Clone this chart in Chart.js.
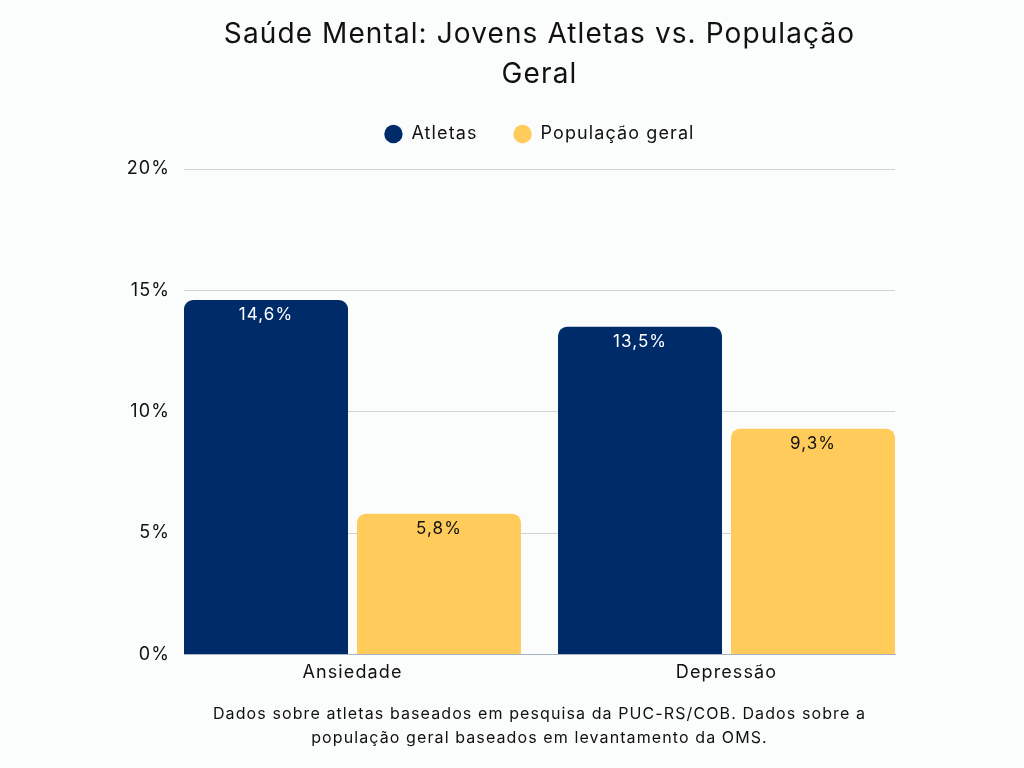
<!DOCTYPE html>
<html lang="pt-BR">
<head>
<meta charset="utf-8">
<title>Saúde Mental: Jovens Atletas vs. População Geral</title>
<script src="https://cdn.jsdelivr.net/npm/chart.js@4"></script>
<style>
    html, body { margin: 0; padding: 0; background: #fbfcfc; }
    #wrap { width: 1024px; height: 768px; }
</style>
</head>
<body>
<div id="wrap"><canvas id="mentalChart" width="1024" height="768"></canvas></div>
<script>
// Data
const categories = ['Ansiedade', 'Depressão'];
const atletas = [14.6, 13.5];
const populacaoGeral = [5.8, 9.3];
const yTicks = [0, 5, 10, 15, 20];

const FONT = 'Inter, "Noto Sans", sans-serif';

// Format numbers with comma decimal separator
function fmtPct(v, digits) {
    return v.toFixed(digits).replace('.', ',') + '%';
}

// Slightly wider lettering, closer to the original typeface
const spacing = {
    id: 'spacing',
    beforeLayout(chart) { chart.ctx.letterSpacing = '1.1px'; },
    beforeDraw(chart) { chart.ctx.letterSpacing = '1.1px'; }
};

// Value labels drawn inside the top of each bar
const barLabels = {
    id: 'barLabels',
    afterDatasetsDraw(chart) {
        const ctx = chart.ctx;
        ctx.save();
        ctx.font = '17px ' + FONT;
        ctx.textAlign = 'center';
        ctx.textBaseline = 'middle';
        chart.data.datasets.forEach((ds, di) => {
            const meta = chart.getDatasetMeta(di);
            meta.data.forEach((bar, i) => {
                ctx.fillStyle = ds.labelColor;
                ctx.fillText(fmtPct(ds.data[i].y, 1), bar.x, bar.y + 15);
            });
        });
        ctx.restore();
    }
};

const ctx = document.getElementById('mentalChart').getContext('2d');
new Chart(ctx, {
    type: 'bar',
    data: {
        datasets: [
            {
                label: 'Atletas',
                data: atletas.map((v, i) => ({ x: i, y: v })),
                backgroundColor: '#002b69',
                labelColor: '#ffffff',
                borderRadius: { topLeft: 9, topRight: 9 },
                borderSkipped: 'bottom'
            },
            {
                label: 'População geral',
                data: populacaoGeral.map((v, i) => ({ x: i, y: v })),
                backgroundColor: '#ffcc5c',
                labelColor: '#111111',
                borderRadius: { topLeft: 9, topRight: 9 },
                borderSkipped: 'bottom'
            }
        ]
    },
    options: {
        responsive: false,
        animation: false,
        devicePixelRatio: 1,
        categoryPercentage: 0.925,
        barPercentage: 0.948,
        layout: { padding: { left: 100, right: 129, top: 8, bottom: 14 } },
        plugins: {
            title: {
                display: true,
                fullSize: false,
                text: ['Saúde Mental: Jovens Atletas vs. População', 'Geral'],
                color: '#111111',
                font: { family: FONT, size: 28, weight: 'normal', lineHeight: 1.4286 },
                padding: { top: 7, bottom: -6 }
            },
            legend: {
                display: true,
                fullSize: false,
                labels: {
                    usePointStyle: true,
                    pointStyle: 'circle',
                    boxWidth: 18,
                    boxHeight: 13,
                    padding: 36,
                    color: '#111111',
                    font: { family: FONT, size: 18 }
                }
            },
            subtitle: {
                display: true,
                position: 'bottom',
                fullSize: false,
                text: ['Dados sobre atletas baseados em pesquisa da PUC-RS/COB. Dados sobre a',
                       'população geral baseados em levantamento da OMS.'],
                color: '#111111',
                font: { family: FONT, size: 16, weight: 'normal', lineHeight: 1.5 },
                padding: { top: 12, bottom: 4 }
            },
            tooltip: { enabled: false }
        },
        scales: {
            x: {
                type: 'linear',
                offset: false,
                min: -0.4505,
                max: 1.4505,
                grid: { display: false, drawTicks: false },
                border: { display: true, color: '#a9b4c2', width: 1 },
                ticks: {
                    stepSize: 1,
                    includeBounds: false,
                    color: '#111111',
                    font: { family: FONT, size: 18 },
                    padding: 7,
                    callback: (v) => categories[v]
                }
            },
            // empty spacer between legend and plot area
            x2: {
                type: 'linear',
                position: 'top',
                min: 0,
                max: 1,
                grid: { display: false, drawTicks: false },
                border: { display: false },
                ticks: { display: false },
                afterFit: (scale) => { scale.height = 16; }
            },
            y: {
                min: yTicks[0],
                max: yTicks[yTicks.length - 1],
                afterBuildTicks: (scale) => { scale.ticks = yTicks.map(v => ({ value: v })); },
                afterFit: (scale) => { scale.width = 84; },
                grid: { color: '#d2d2d2', lineWidth: 1, drawTicks: false },
                border: { display: false },
                ticks: {
                    color: '#111111',
                    font: { family: FONT, size: 18 },
                    padding: 14,
                    callback: (v) => fmtPct(v, 0)
                }
            }
        }
    },
    plugins: [spacing, barLabels]
});
</script>
</body>
</html>
